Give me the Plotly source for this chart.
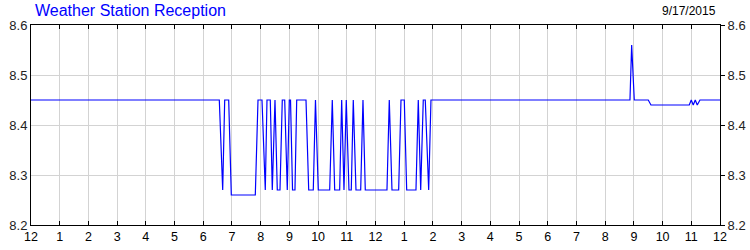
import plotly.graph_objects as go

# Hours since midnight (0..24) and reception values
times = [0.0, 6.559, 6.677, 6.747, 6.886, 6.977, 7.813, 7.907, 8.046, 8.161,
         8.220, 8.335, 8.405, 8.499, 8.579, 8.673, 8.753, 8.837, 8.927, 8.997,
         9.040, 9.110, 9.195, 9.255, 9.579, 9.673, 9.833, 9.909, 10.007, 10.404,
         10.495, 10.578, 10.752, 10.822, 10.902, 10.982, 11.076, 11.156, 11.226, 11.320,
         11.484, 11.564, 11.644, 12.400, 12.480, 12.574, 12.807, 12.888, 13.003, 13.086,
         13.410, 13.490, 13.574, 13.664, 13.734, 13.852, 13.932, 20.864, 20.923, 21.014,
         21.501, 21.595, 22.929, 22.999, 23.068, 23.138, 23.208, 23.302, 24.0]
reception = [8.45, 8.45, 8.27, 8.45, 8.45, 8.26, 8.26, 8.45, 8.45, 8.27,
             8.45, 8.45, 8.27, 8.45, 8.27, 8.27, 8.45, 8.45, 8.27, 8.45,
             8.45, 8.27, 8.27, 8.45, 8.45, 8.27, 8.27, 8.45, 8.27, 8.27,
             8.45, 8.27, 8.27, 8.45, 8.27, 8.45, 8.27, 8.27, 8.45, 8.27,
             8.27, 8.45, 8.27, 8.27, 8.45, 8.27, 8.27, 8.45, 8.45, 8.27,
             8.27, 8.45, 8.27, 8.45, 8.45, 8.27, 8.45, 8.45, 8.56, 8.45,
             8.45, 8.44, 8.44, 8.45, 8.44, 8.45, 8.44, 8.45, 8.45]

hour_ticks = list(range(25))
hour_labels = ["12", "1", "2", "3", "4", "5", "6", "7", "8", "9", "10", "11",
               "12", "1", "2", "3", "4", "5", "6", "7", "8", "9", "10", "11", "12"]
y_ticks = [8.2, 8.3, 8.4, 8.5, 8.6]
y_labels = ["8.2", "8.3", "8.4", "8.5", "8.6"]

title_text = "Weather Station Reception"
date_text = "9/17/2015"

FONT = "Liberation Sans, Arial, sans-serif"
GRID = "#d3d3d3"

fig = go.Figure()
fig.add_trace(go.Scatter(x=times, y=reception, mode="lines",
                         line=dict(color="#0000FF", width=1.2),
                         showlegend=False, hoverinfo="skip"))
fig.add_trace(go.Scatter(x=[times[0]], y=[reception[0]], yaxis="y2", mode="markers",
                         marker=dict(opacity=0), showlegend=False, hoverinfo="skip"))

fig.update_layout(
    width=750, height=250,
    margin=dict(l=31, r=30, t=25, b=25, pad=0, autoexpand=False),
    paper_bgcolor="white", plot_bgcolor="white",
    font=dict(family=FONT, size=12, color="black"),
    xaxis=dict(range=[0, 24], tickmode="array", tickvals=hour_ticks, ticktext=hour_labels,
               ticks="inside", ticklen=4, tickcolor="black", tickwidth=1,
               showgrid=True, gridcolor=GRID, gridwidth=1,
               showline=True, linecolor="black", linewidth=1, mirror="ticks",
               zeroline=False, tickfont=dict(size=12.5, color="black")),
    yaxis=dict(range=[8.2, 8.6], tickmode="array", tickvals=y_ticks, ticktext=y_labels,
               ticks="", showgrid=True, gridcolor=GRID, gridwidth=1,
               showline=True, linecolor="black", linewidth=1, mirror=True,
               zeroline=False, tickfont=dict(size=13, color="#222222")),
    yaxis2=dict(range=[8.2, 8.6], overlaying="y", side="right", tickmode="array",
                tickvals=y_ticks, ticktext=y_labels,
                ticks="outside", ticklen=4, tickcolor="black",
                showgrid=False, showline=False, zeroline=False,
                tickfont=dict(size=13, color="#222222")),
    annotations=[
        dict(text=title_text, xref="paper", yref="paper", x=0.003, y=1.07,
             xanchor="left", yanchor="middle", showarrow=False,
             font=dict(size=16, color="#0000FF", family=FONT)),
        dict(text=date_text, xref="paper", yref="paper", x=0.997, y=1.07,
             xanchor="right", yanchor="middle", showarrow=False,
             font=dict(size=12, color="black", family=FONT)),
    ],
)

fig.write_html("out.html")
